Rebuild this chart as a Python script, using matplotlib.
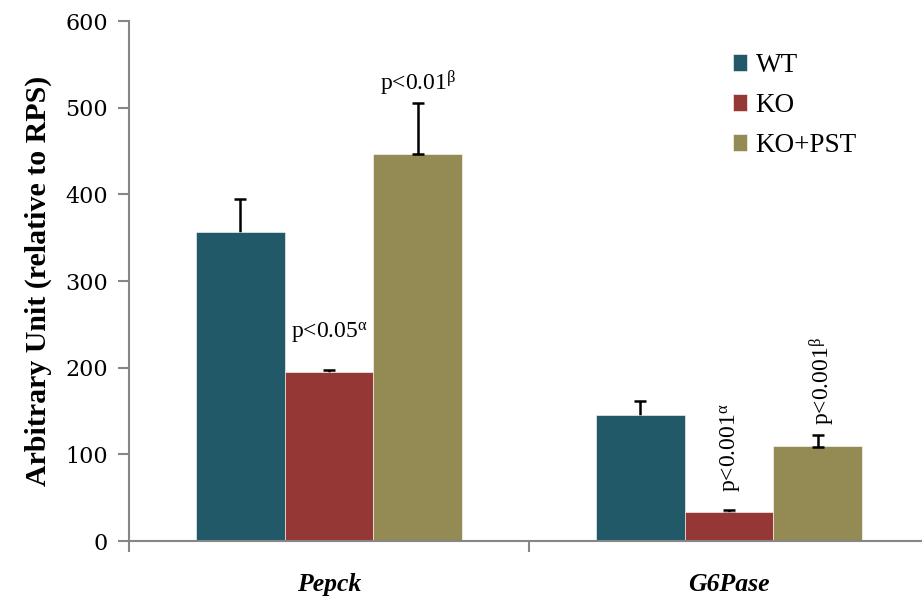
import numpy as np
import matplotlib
matplotlib.use('Agg')
import matplotlib.pyplot as plt

# %%
# Data
genes = ['Pepck', 'G6Pase']
groups = ['WT', 'KO', 'KO+PST']
wt = [357, 145]
ko = [195, 34]
pst = [447, 110]
wt_err = [38, 16]
ko_err = [2, 2]
pst_err = [58, 12]
colors = ['#215968', '#953735', '#948A54']
yticks = [0, 100, 200, 300, 400, 500, 600]

# %%
plt.rcParams['font.family'] = ['Liberation Serif', 'DejaVu Serif']
plt.rcParams['mathtext.fontset'] = 'custom'
plt.rcParams['mathtext.rm'] = 'Liberation Serif'
plt.rcParams['mathtext.it'] = 'Liberation Serif'

fig = plt.figure(figsize=(9.22, 5.98), dpi=100)
ax = fig.add_axes([129 / 922, 57 / 598, 800 / 922, 520 / 598])

x = np.arange(len(genes))
width = 0.222
offsets = [-width, 0, width]
series = [wt, ko, pst]
errs = [wt_err, ko_err, pst_err]

for i in range(3):
    ax.bar(x + offsets[i], series[i], width, color=colors[i],
           edgecolor='white', linewidth=0.4, label=groups[i], zorder=2)
    if i < 2:
        # lower half hidden behind bar
        ax.errorbar(x + offsets[i], series[i], yerr=errs[i], fmt='none',
                    ecolor='black', elinewidth=1.8, capsize=4.3, capthick=1.8,
                    zorder=1)
    else:
        ax.errorbar(x + offsets[i], series[i], yerr=[[1, 1], errs[i]],
                    fmt='none', ecolor='black', elinewidth=1.8, capsize=4.3,
                    capthick=1.8, zorder=3)

ax.set_xlim(-0.5, 1.5)
ax.set_ylim(0, 600)
ax.set_yticks(yticks)
ax.set_xticks(x)
ax.set_xticklabels(genes, fontsize=18.5, fontweight='bold', style='italic')
ax.set_xticks([-0.5, 0.5, 1.5], minor=True)
ax.tick_params(axis='x', which='major', length=0, pad=23)
ax.tick_params(axis='x', which='minor', length=8, width=1.5, color='#868686')
ax.tick_params(axis='y', length=8, width=1.5, color='#868686', pad=7)
for lab in ax.get_yticklabels():
    lab.set_fontfamily('DejaVu Serif')
    lab.set_fontsize(16)

for s in ['top', 'right']:
    ax.spines[s].set_visible(False)
for s in ['left', 'bottom']:
    ax.spines[s].set_color('#868686')
    ax.spines[s].set_linewidth(1.5)

ax.set_ylabel('Arbitrary Unit (relative to RPS)', fontsize=21.5,
              fontweight='bold', labelpad=10)

# p-value annotations
ax.text(x[0] + width, 511, r'p<0.01$^{\beta}$', ha='center',
        va='bottom', fontsize=17)
ax.text(x[0], 226, r'p<0.05$^{\alpha}$', ha='center', va='bottom',
        fontsize=17)
ax.text(x[1] + 0.003, 57, r'p<0.001$^{\alpha}$', ha='center',
        va='bottom', rotation=90, fontsize=17)
ax.text(x[1] + width + 0.01, 134, r'p<0.001$^{\beta}$', ha='center',
        va='bottom', rotation=90, fontsize=17)

ax.legend(loc='upper left', bbox_to_anchor=(0.724, 0.985), frameon=False,
          fontsize=19.5, handlelength=0.55, handleheight=0.55,
          labelspacing=0.55, handletextpad=0.3)

fig.savefig('out.png', dpi=100)
